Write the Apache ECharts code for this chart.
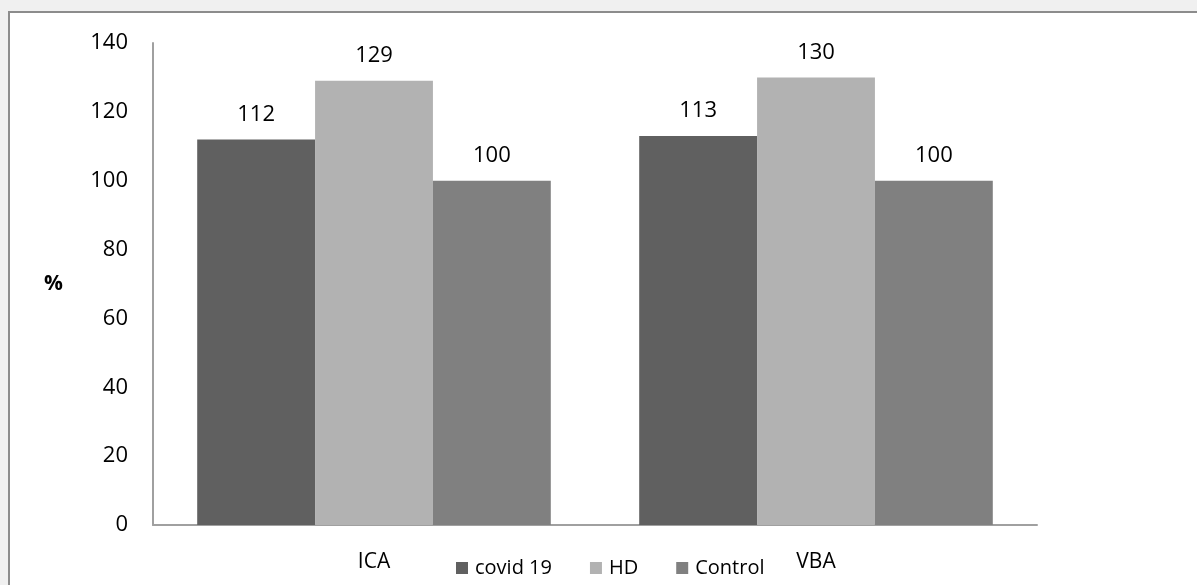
<!DOCTYPE html>
<html>
<head>
<meta charset="utf-8">
<script src="https://cdn.jsdelivr.net/npm/echarts@6/dist/echarts.min.js"></script>
<style>
  html, body { margin: 0; padding: 0; background: #f0f0f0; }
  #frame {
    position: absolute; left: 8px; top: 11px; width: 1300px; height: 700px;
    background: #ffffff; border-left: 2px solid #8c8c8c; border-top: 2px solid #8c8c8c;
  }
  #chart { position: absolute; left: 0; top: 0; width: 1197px; height: 585px; }
</style>
</head>
<body>
<div id="frame"></div>
<div id="chart"></div>
<script>
// Vessel measurements, percent of control
const categories = ['ICA', 'VBA'];
const covid19 = [112, 113];
const hd = [129, 130];
const control = [100, 100];
const yTicks = { min: 0, max: 140, interval: 20 };

const font = '"Open Sans", "Noto Sans", sans-serif';

const chart = echarts.init(document.getElementById('chart'), null, { renderer: 'canvas' });

const labelStyle = {
  show: true, position: 'top', distance: 14,
  color: '#000', fontSize: 22, fontFamily: font
};

chart.setOption({
  backgroundColor: 'transparent',
  animation: false,
  grid: { left: 153, right: 160, top: 43, bottom: 60, containLabel: false },
  legend: {
    data: ['covid 19', 'HD', 'Control'],
    left: 451, top: 553,
    itemWidth: 12, itemHeight: 12, itemGap: 38,
    icon: 'rect',
    textStyle: { fontSize: 20, fontFamily: font, color: '#000', padding: [0, 0, 0, 2] }
  },
  xAxis: {
    type: 'category',
    data: categories,
    axisLine: { lineStyle: { color: '#a0a0a0', width: 2 } },
    axisTick: { show: false },
    axisLabel: { color: '#000', fontSize: 21, fontFamily: font, margin: 27 }
  },
  yAxis: {
    type: 'value',
    min: yTicks.min, max: yTicks.max, interval: yTicks.interval,
    name: '%',
    nameLocation: 'middle',
    nameRotate: 0,
    nameGap: 90,
    nameTextStyle: { fontSize: 21, fontWeight: 'bold', fontFamily: font, color: '#000' },
    axisLine: { show: true, lineStyle: { color: '#a0a0a0', width: 2 } },
    axisTick: { show: false },
    splitLine: { show: false },
    axisLabel: { color: '#000', fontSize: 22, fontFamily: font, margin: 25 }
  },
  series: [
    { name: 'covid 19', type: 'bar', data: covid19, barGap: '0%', barCategoryGap: '20%',
      itemStyle: { color: '#606060' }, label: labelStyle },
    { name: 'HD', type: 'bar', data: hd,
      itemStyle: { color: '#b2b2b2' }, label: labelStyle },
    { name: 'Control', type: 'bar', data: control,
      itemStyle: { color: '#808080' }, label: labelStyle }
  ]
});
</script>
</body>
</html>
